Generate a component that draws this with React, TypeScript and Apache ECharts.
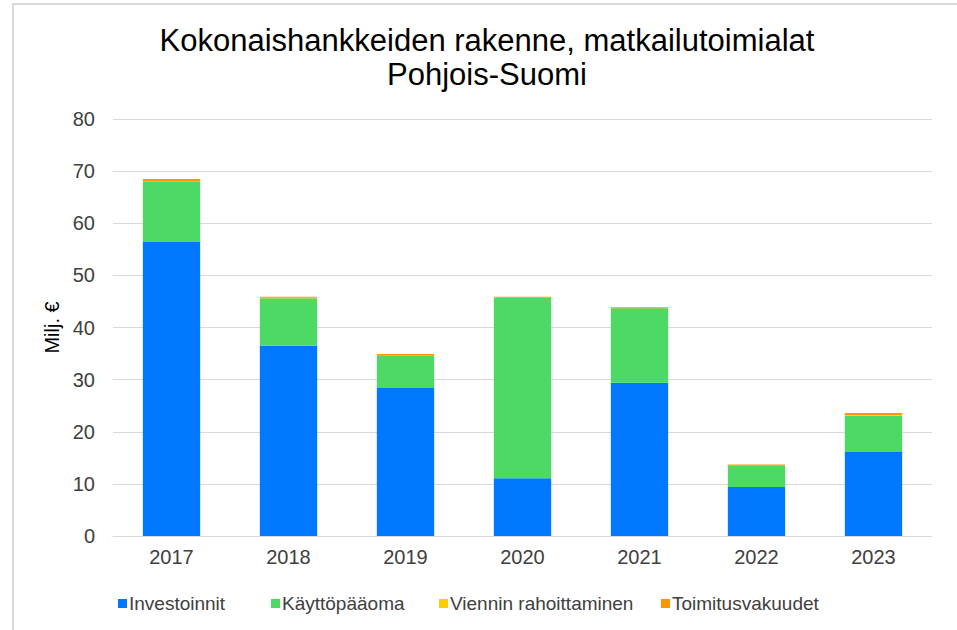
import React, { useEffect, useRef } from "react";
import * as echarts from "echarts";

const years = ["2017", "2018", "2019", "2020", "2021", "2022", "2023"];
const investoinnit = [56.4, 36.5, 28.4, 11.1, 29.4, 9.4, 16.1];
const kayttopaaoma = [11.6, 9.1, 6.2, 34.6, 14.3, 4.1, 7.0];
const viennin = [0, 0.1, 0, 0, 0, 0, 0.1];
const toimitus = [0.5, 0.2, 0.3, 0.2, 0.2, 0.2, 0.4];

const seriesNames = ["Investoinnit", "Käyttöpääoma", "Viennin rahoittaminen", "Toimitusvakuudet"];
const seriesColors = ["#0078ff", "#4cd964", "#ffcc00", "#ff9500"];
const legendLefts = [118, 271, 439, 661];

const font = "Liberation Sans, Arial, sans-serif";

export default function App() {
  const ref = useRef<HTMLDivElement>(null);
  useEffect(() => {
    if (!ref.current) return;
    const chart = echarts.init(ref.current, null, { renderer: "svg" });
    const values = [investoinnit, kayttopaaoma, viennin, toimitus];
    chart.setOption({
      animation: false,
      backgroundColor: "#ffffff",
      textStyle: { fontFamily: font },
      title: {
        text: "Kokonaishankkeiden rakenne, matkailutoimialat\nPohjois-Suomi",
        left: 482,
        top: 18,
        textAlign: "center",
        textStyle: {
          fontFamily: font,
          fontSize: 31,
          fontWeight: "normal",
          color: "#000000",
          lineHeight: 34,
        },
      },
      graphic: [
        {
          type: "rect",
          shape: { x: 13, y: 4, width: 960, height: 640 },
          style: { fill: "none", stroke: "#d9d9d9", lineWidth: 2 },
          silent: true,
        },
      ],
      legend: seriesNames.map((n, i) => ({
        bottom: 17,
        left: legendLefts[i],
        padding: 0,
        itemWidth: 9,
        itemHeight: 9,
        icon: "rect",
        textStyle: { fontFamily: font, fontSize: 19, color: "#404040", padding: [0, 0, 0, -3] },
        data: [n],
      })),
      grid: { left: 113, right: 25, top: 119, bottom: 94, containLabel: false },
      xAxis: {
        type: "category",
        data: years,
        axisLine: { show: true, lineStyle: { color: "#d9d9d9", width: 1 } },
        axisTick: { show: false },
        axisLabel: { fontFamily: font, fontSize: 20, color: "#404040", margin: 11 },
      },
      yAxis: {
        type: "value",
        min: 0,
        max: 80,
        interval: 10,
        name: "Milj. €",
        nameLocation: "middle",
        nameGap: 48,
        nameTextStyle: { fontFamily: font, fontSize: 20, color: "#000000" },
        axisLine: { show: false },
        axisTick: { show: false },
        axisLabel: { fontFamily: font, fontSize: 20, color: "#404040", margin: 18 },
        splitLine: { lineStyle: { color: "#d9d9d9", width: 1 } },
      },
      series: seriesNames.map((n, i) => ({
        name: n,
        type: "bar",
        stack: "total",
        data: values[i],
        barWidth: "49%",
        itemStyle: { color: seriesColors[i] },
        emphasis: { disabled: true },
      })),
    });
    return () => chart.dispose();
  }, []);
  return (
    <div
      ref={ref}
      style={{ position: "fixed", left: 0, top: 0, width: 957, height: 630, background: "#fff" }}
    />
  );
}
